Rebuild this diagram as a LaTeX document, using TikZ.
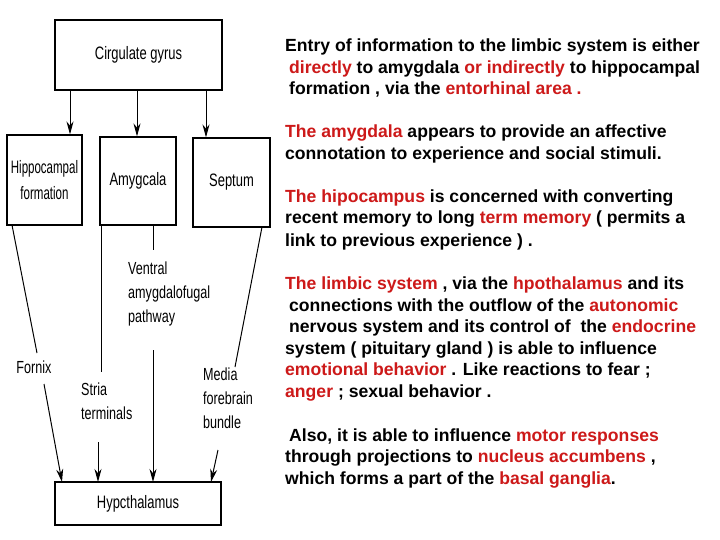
\documentclass[tikz,border=0pt]{standalone}
\usepackage{fontspec}
\setmainfont{Liberation Sans}
\newfontfamily\narrow[FakeStretch=0.72]{Liberation Sans}
\newfontfamily\hipnarrow[FakeStretch=0.64]{Liberation Sans}
\usetikzlibrary{arrows.meta}
\definecolor{rd}{RGB}{205,25,25}
\newcommand{\R}[1]{\textcolor{rd}{#1}}
\begin{document}
\begin{tikzpicture}[x=1pt,y=-1pt,
  box/.style={draw,line width=1.2pt,inner sep=0pt,font=\narrow\fontsize{18}{22}\selectfont,align=center},
  lab/.style={font=\narrow\fontsize{17.5}{24}\selectfont,align=left,inner sep=0pt},
  arr/.style={line width=1pt,-{Stealth[length=13pt,width=7pt]}},
  ln/.style={line width=1pt},
  tx/.style={anchor=base west,inner sep=0pt,font=\bfseries\fontsize{17.6}{18}\selectfont}]
\fill[white] (0,0) rectangle (720,540);
\useasboundingbox (0,0) rectangle (720,540);
% boxes
\node[box,minimum width=167pt,minimum height=70pt] (cg) at (138.5,55) {Cirgulate gyrus};
\node[box,minimum width=75pt,minimum height=90pt,font=\hipnarrow\fontsize{18}{26}\selectfont] (hf) at (44.5,180) {Hippocampal\\formation};
\node[box,minimum width=76pt,minimum height=88pt] (am) at (138,181) {Amygcala};
\node[box,minimum width=77pt,minimum height=89pt] (se) at (231.5,182.5) {Septum};
\node[box,minimum width=166pt,minimum height=43pt] (hy) at (138,503.5) {Hypcthalamus};
% cingulate arrows
\draw[arr] (cg.south -| 70,0) -- (hf.north -| 70,0);
\draw[arr] (cg.south -| 137,0) -- (am.north -| 137,0);
\draw[arr] (cg.south -| 206,0) -- (se.north -| 206,0);
% labels
\node[lab] (fx) at (34,367) {Fornix};
\node[lab,anchor=north west] (st) at (81,383) {Stria\\terminals};
\node[lab,anchor=north west] (vp) at (128,262) {Ventral\\amygdalofugal\\pathway};
\node[lab,anchor=north west] (mf) at (203,368) {Media\\forebrain\\bundle};
% fornix
\draw[ln] (12,225) -- (37,353);
\draw[arr] (44,384) -- (62,482);
% stria
\draw[ln] (101,225) -- (101,372);
\draw[arr] (98,442) -- (98,482);
% ventral
\draw[ln] (153,225) -- (153,250);
\draw[arr] (153,350) -- (153,482);
% medial forebrain
\draw[ln] (262,227) -- (235,367);
\draw[arr] (218,450) -- (211,482);
% text
\node[tx] (t1) at (285,52) {Entry of information to the limbic system is either};
\node[tx] (t2) at (289,74) {\R{directly} to amygdala \R{or indirectly} to hippocampal};
\node[tx] (t3) at (289,95) {formation , via the \R{entorhinal area .}};
\node[tx] (t4) at (285,138) {\R{The amygdala} appears to provide an affective};
\node[tx] (t5) at (285,160) {connotation to experience and social stimuli.};
\node[tx] (t6) at (285,203) {\R{The hipocampus} is concerned with converting};
\node[tx] (t7) at (285,224) {recent memory to long \R{term memory} ( permits a};
\node[tx] (t8) at (285,246) {link to previous experience ) .};
\node[tx] (t9) at (285,289) {\R{The limbic system} , via the \R{hpothalamus} and its};
\node[tx] (t10) at (289,311) {connections with the outflow of the \R{autonomic}};
\node[tx] (t11) at (289,332) {nervous system and its control of\ \ the \R{endocrine}};
\node[tx] (t12) at (285,354) {system ( pituitary gland ) is able to influence};
\node[tx] (t13) at (285,375) {\R{emotional behavior} . Like reactions to fear ;};
\node[tx] (t14) at (285,397) {\R{anger} ; sexual behavior .};
\node[tx] (t15) at (289,441) {Also, it is able to influence \R{motor responses}};
\node[tx] (t16) at (285,462) {through projections to \R{nucleus accumbens} ,};
\node[tx] (t17) at (285,484) {which forms a part of the \R{basal ganglia}.};
\end{tikzpicture}
\end{document}
